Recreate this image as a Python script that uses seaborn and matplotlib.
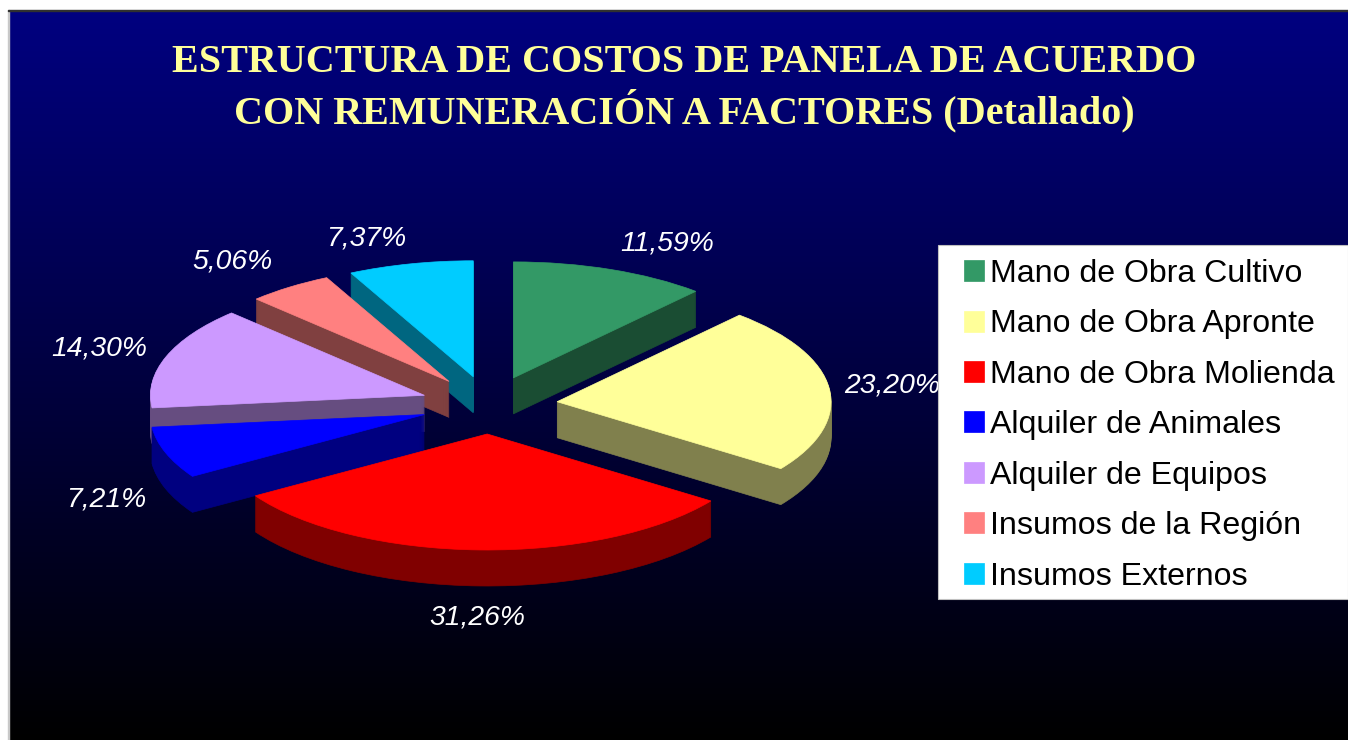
import numpy as np
import seaborn as sns
import matplotlib.pyplot as plt
from matplotlib.patches import Rectangle

sns.set_style('white')
plt.rcParams['font.family'] = ['Liberation Sans', 'DejaVu Sans']

categories = ['Mano de Obra Cultivo', 'Mano de Obra Apronte', 'Mano de Obra Molienda',
              'Alquiler de Animales', 'Alquiler de Equipos', 'Insumos de la Región',
              'Insumos Externos']
shares = [11.59, 23.20, 31.26, 7.21, 14.30, 5.06, 7.37]
colors = ['#339966', '#FFFF99', '#FF0000', '#0000FF', '#CC99FF', '#FF8080', '#00CCFF']

# back to front, so the nearer slices hide the ones behind
draw_rank = [1, 5, 6, 4, 3, 2, 0]

W, H = 1348, 740
RX, RY = 274, 116
CX, CY = 489, 405
DEPTH = 36

palette = sns.color_palette(colors)
dark_palette = [tuple(c * 0.5 for c in col) for col in palette]

fig = plt.figure(figsize=(W / 100, H / 100), dpi=100, facecolor='white')

# background gradient
ramp = np.array(sns.blend_palette(['#000080', '#000000'], H - 11))
gradient = np.repeat(ramp[:, np.newaxis, :], W - 9, axis=1)
fig.figimage(gradient, xo=9, yo=0, origin='upper', zorder=0)
fig.add_artist(Rectangle((8 / W, 0), 1 / W, 1 - 10 / H, transform=fig.transFigure, color='#c8c8c8', zorder=1))
fig.add_artist(Rectangle((8 / W, 1 - 11 / H), 1 - 8 / W, 1 / H, transform=fig.transFigure, color='#303030', zorder=1))

ax = fig.add_axes([0, 0, 1, 1], zorder=2)
ax.patch.set_alpha(0)

# side of the pie: stacked darker copies, then the lit top
for k in range(DEPTH, -1, -1):
    layer_colors = palette if k == 0 else dark_palette
    wedges, _ = ax.pie(shares, explode=[0.25] * len(shares), startangle=90, counterclock=False,
                       center=(0, -k / RY), colors=layer_colors, normalize=True)
    for w, col, rank in zip(wedges, layer_colors, draw_rank):
        w.set(edgecolor=col, linewidth=0.5, zorder=rank + (DEPTH - k) / (DEPTH + 1))
    if k == 0:
        top_wedges = wedges

ax.set_aspect('auto')
ax.set_xlim(-CX / RX, (W - CX) / RX)
ax.set_ylim((CY - H) / RY, CY / RY)
ax.axis('off')

fig.text(684 / W, 1 - 63 / H, 'ESTRUCTURA DE COSTOS DE PANELA DE ACUERDO', family='Liberation Serif',
         weight='bold', fontsize=28.9, color='#FFFF99', ha='center', va='center', zorder=3)
fig.text(684 / W, 1 - 111 / H, 'CON REMUNERACIÓN A FACTORES (Detallado)', family='Liberation Serif',
         weight='bold', fontsize=28.9, color='#FFFF99', ha='center', va='center', zorder=3)

# centre of each percent label, in pixels
label_px = [(667, 243), (892, 386), (477, 617), (106, 499), (99, 349), (232, 261), (366, 238)]
for share, (px, py) in zip(shares, label_px):
    fig.text(px / W, 1 - py / H, f'{share:.2f}%'.replace('.', ','), color='white', style='italic',
             fontsize=20.3, ha='center', va='center', zorder=3)

fig.add_artist(Rectangle((938 / W, 1 - 599 / H), 410 / W, 354 / H, transform=fig.transFigure,
                         facecolor='white', edgecolor='#c0c0c0', linewidth=0.8, zorder=5))
leg = fig.legend(top_wedges, categories, loc='upper left', bbox_to_anchor=(964 / W, 1 - 259 / H),
                 frameon=False, fontsize=23.15, labelcolor='black', borderpad=0, borderaxespad=0,
                 handlelength=0.622, handleheight=0.622, handletextpad=0.19, labelspacing=0.635)
leg.set_zorder(6)

fig.savefig('out.png', dpi=100)
